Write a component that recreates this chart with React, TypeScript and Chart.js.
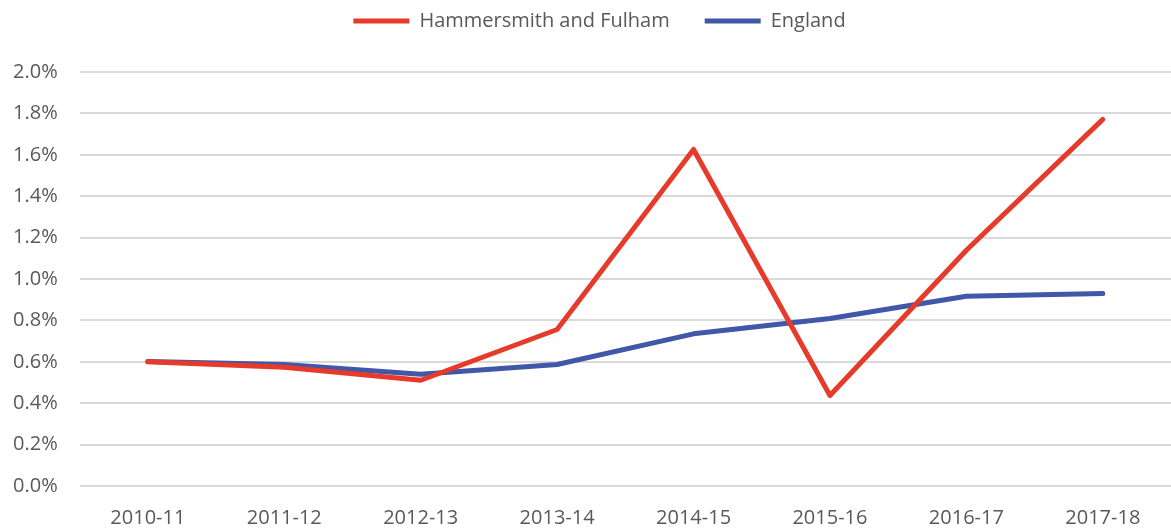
import React, { useEffect, useRef } from "react";
import { Chart, registerables } from "chart.js";

Chart.register(...registerables);

const categories = ["2010-11", "2011-12", "2012-13", "2013-14", "2014-15", "2015-16", "2016-17", "2017-18"];
const hammersmith = [0.60, 0.574, 0.511, 0.756, 1.626, 0.437, 1.139, 1.771];
const england = [0.601, 0.587, 0.54, 0.587, 0.735, 0.809, 0.917, 0.93];
const seriesNames = ["Hammersmith and Fulham", "England"];
const seriesColors = ["#E63B2B", "#4157A7"];

const FONT = "'Open Sans', sans-serif";

const legendTweak = {
  id: "legendTweak",
  beforeInit(chart: any) {
    const legend = chart.legend;
    if (!legend) return;
    const fit = legend.fit;
    legend.fit = function () {
      fit.call(this);
      this.height = 96;
    };
  },
  afterUpdate(chart: any) {
    const legend = chart.legend;
    if (!legend) return;
    legend.left += 15;
    legend.right += 15;
  },
};

export default function App() {
  const ref = useRef<HTMLCanvasElement | null>(null);
  useEffect(() => {
    if (!ref.current) return;
    const chart = new Chart(ref.current, {
      type: "line",
      data: {
        labels: categories,
        datasets: [
          {
            label: seriesNames[0],
            data: hammersmith,
            borderColor: seriesColors[0],
            backgroundColor: seriesColors[0],
            borderWidth: 5,
            pointRadius: 0,
            tension: 0,
            borderCapStyle: "round",
            borderJoinStyle: "round",
          },
          {
            label: seriesNames[1],
            data: england,
            borderColor: seriesColors[1],
            backgroundColor: seriesColors[1],
            borderWidth: 5,
            pointRadius: 0,
            tension: 0,
            borderCapStyle: "round",
            borderJoinStyle: "round",
          },
        ],
      },
      plugins: [legendTweak],
      options: {
        responsive: true,
        maintainAspectRatio: false,
        animation: false,
        layout: { padding: { left: -9, right: -7, top: -24, bottom: -20 } },
        plugins: {
          legend: {
            position: "top",
            labels: {
              boxWidth: 56,
              boxHeight: 5,
              padding: 35,
              color: "#595959",
              font: { family: FONT, size: 20 },
              generateLabels: (c: any) =>
                c.data.datasets.map((ds: any, i: number) => ({
                  text: ds.label,
                  fillStyle: ds.borderColor,
                  strokeStyle: ds.borderColor,
                  lineWidth: 0,
                  hidden: false,
                  datasetIndex: i,
                  fontColor: "#595959",
                })),
            },
          },
          tooltip: { enabled: false },
        },
        scales: {
          x: {
            offset: true,
            grid: { display: false, drawTicks: false },
            border: { display: false },
            ticks: { color: "#595959", font: { family: FONT, size: 20 }, padding: 20, maxRotation: 0 },
          },
          y: {
            min: 0,
            max: 2.0,
            grid: { color: "#d9d9d9", lineWidth: 2, drawTicks: false },
            border: { display: false },
            ticks: {
              stepSize: 0.2,
              color: "#595959",
              font: { family: FONT, size: 20 },
              padding: 22,
              callback: (v: any) => `${Number(v).toFixed(1)}%`,
            },
          },
        },
      },
    });
    return () => chart.destroy();
  }, []);
  return (
    <div style={{ position: "fixed", left: 0, top: 0, width: 1171, height: 530, background: "#fff" }}>
      <canvas ref={ref} />
    </div>
  );
}
